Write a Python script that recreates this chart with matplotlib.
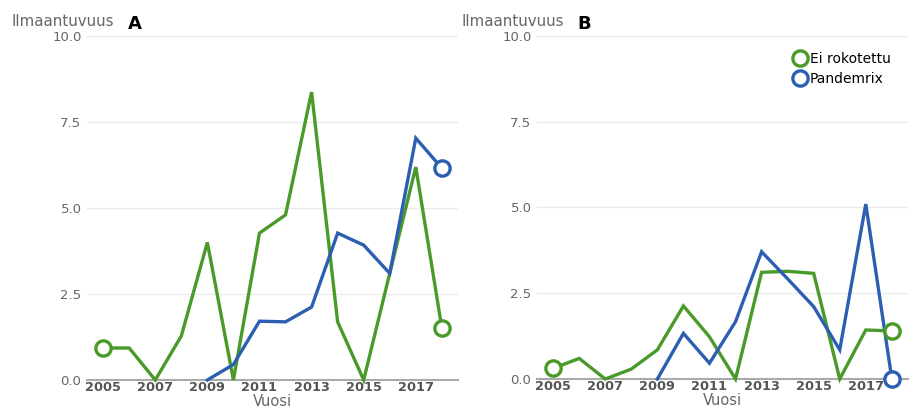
import matplotlib
matplotlib.use("Agg")
import matplotlib.pyplot as plt
import numpy as np

years = [2005, 2006, 2007, 2008, 2009, 2010, 2011, 2012, 2013, 2014, 2015, 2016, 2017, 2018]
years_pdm = [2009, 2010, 2011, 2012, 2013, 2014, 2015, 2016, 2017, 2018]

a_ei = [0.93, 0.93, 0.0, 1.28, 4.0, 0.0, 4.27, 4.8, 8.37, 1.69, 0.0, 3.1, 6.19, 1.51]
a_pdm = [0.0, 0.45, 1.71, 1.69, 2.12, 4.27, 3.92, 3.1, 7.03, 6.16]

b_ei = [0.31, 0.6, 0.0, 0.29, 0.85, 2.13, 1.23, 0.0, 3.11, 3.14, 3.08, 0.0, 1.43, 1.40]
b_pdm = [0.0, 1.33, 0.46, 1.67, 3.71, 2.92, 2.11, 0.85, 5.1, 0.0]

xticks = [2005, 2007, 2009, 2011, 2013, 2015, 2017]
yticks = [0.0, 2.5, 5.0, 7.5, 10.0]
labels = ["Ei rokotettu", "Pandemrix"]
panel_letters = ["A", "B"]

GREEN = "#4a9a2a"
BLUE = "#2c5fb2"
GRAY = "#666666"

fig = plt.figure(figsize=(9.15, 4.07), dpi=100)
W, H = 915, 407
boxes = [(87, 36, 458, 380), (537, 36, 908, 379)]

for i, (box, ei, pdm) in enumerate(zip(boxes, [a_ei, b_ei], [a_pdm, b_pdm])):
    l, t, r, b = box
    ax = fig.add_axes([l / W, 1 - b / H, (r - l) / W, (b - t) / H])
    ax.plot(years, ei, color=GREEN, lw=2.4, solid_joinstyle="miter", clip_on=False, zorder=3)
    ax.plot(years_pdm, pdm, color=BLUE, lw=2.4, solid_joinstyle="miter", clip_on=False, zorder=3)
    ax.plot([years[0], years[-1]], [ei[0], ei[-1]], ls="none", marker="o", ms=11,
            mfc="white", mec=GREEN, mew=2.4, clip_on=False, zorder=4)
    ax.plot([years_pdm[-1]], [pdm[-1]], ls="none", marker="o", ms=11,
            mfc="white", mec=BLUE, mew=2.4, clip_on=False, zorder=4)
    ax.set_xlim(2004.38, 2018.62)
    ax.set_ylim(0, 10)
    ax.set_xticks(xticks)
    ax.set_xticklabels([str(x) for x in xticks], fontweight="bold", color="#555555", fontsize=9.3)
    ax.set_yticks(yticks)
    ax.set_yticklabels([f"{v:.1f}" for v in yticks], color=GRAY, fontsize=9.5)
    ax.tick_params(length=0, pad=1)
    ax.tick_params(axis="y", pad=4)
    ax.grid(axis="y", color="#ebebeb", lw=1)
    ax.set_axisbelow(True)
    for s in ["top", "right", "left"]:
        ax.spines[s].set_visible(False)
    ax.spines["bottom"].set_color("#aaaaaa")
    ax.spines["bottom"].set_linewidth(1.5)
    ax.set_xlabel("Vuosi", color=GRAY, fontsize=10.5, labelpad=-0.5)
    ax.text(-0.203, 1.02, "Ilmaantuvuus", transform=ax.transAxes, color=GRAY,
            fontsize=10.8, ha="left", va="bottom")
    ax.text(0.11, 1.01, panel_letters[i], transform=ax.transAxes, color="black",
            fontsize=13, fontweight="bold", ha="left", va="bottom")
    if i == 1:
        h1, = ax.plot([], [], ls="none", marker="o", ms=11, mfc="white", mec=GREEN, mew=2.4)
        h2, = ax.plot([], [], ls="none", marker="o", ms=11, mfc="white", mec=BLUE, mew=2.4)
        ax.legend([h1, h2], labels, loc="upper right", bbox_to_anchor=(0.975, 0.978),
                  frameon=False, fontsize=10, handlelength=0.8, handletextpad=0.3,
                  labelspacing=0.45, borderaxespad=0.2)

fig.savefig("out.png", dpi=100)
